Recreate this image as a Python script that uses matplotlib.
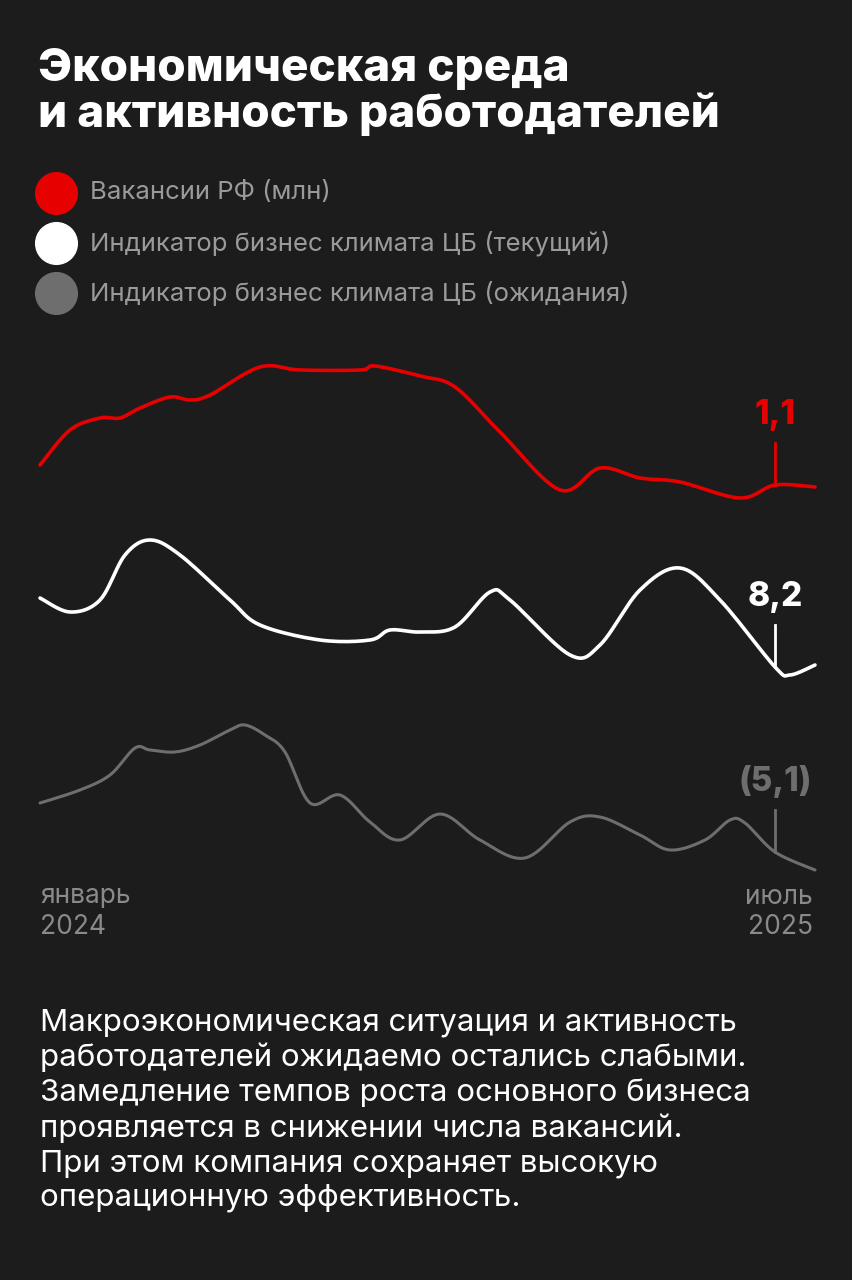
import numpy as np
import matplotlib
matplotlib.use("Agg")
import matplotlib.pyplot as plt

plt.rcParams['font.family'] = ['Inter', 'DejaVu Sans']

BG = '#1c1c1c'
RED = '#e60000'
GRAY = '#6e6e6e'

# x in pixel-like horizontal position, y in vertical chart units (smaller = higher)
red_x = [40, 70, 100, 120, 140, 170, 190, 210, 260, 300, 360, 375, 420, 455, 500, 560, 600, 640, 680, 740, 775, 815]
red_y = [465, 430, 418, 418, 408, 397, 400, 395, 367, 370, 370, 366, 376, 387, 432, 490, 468, 478, 482, 498, 485, 487]
white_x = [40, 70, 100, 125, 150, 180, 230, 260, 320, 370, 390, 420, 455, 490, 510, 570, 600, 640, 680, 720, 775, 790, 815]
white_y = [598, 612, 600, 555, 540, 555, 600, 625, 640, 640, 630, 632, 627, 592, 600, 655, 645, 590, 568, 600, 667, 675, 665]
gray_x = [40, 80, 110, 135, 150, 175, 200, 230, 245, 265, 285, 310, 340, 370, 400, 440, 480, 525, 570, 600, 640, 670, 705, 730, 745, 775, 815]
gray_y = [803, 790, 775, 748, 750, 752, 745, 730, 725, 735, 752, 803, 795, 822, 840, 814, 840, 858, 822, 817, 835, 850, 840, 820, 823, 852, 870]

legend_labels = ['Вакансии РФ (млн)', 'Индикатор бизнес климата ЦБ (текущий)',
                 'Индикатор бизнес климата ЦБ (ожидания)']
end_labels = ['1,1', '8,2', '(5,1)']
marker_x = 775


def smooth(xs, ys, n=12):
    # Catmull-Rom through the read points
    p = np.column_stack([xs, ys]).astype(float)
    p = np.vstack([p[0], p, p[-1]])
    out = []
    t = np.linspace(0, 1, n, endpoint=False)[:, None]
    for i in range(1, len(p) - 2):
        p0, p1, p2, p3 = p[i - 1], p[i], p[i + 1], p[i + 2]
        seg = 0.5 * ((2 * p1) + (-p0 + p2) * t + (2 * p0 - 5 * p1 + 4 * p2 - p3) * t ** 2
                     + (-p0 + 3 * p1 - 3 * p2 + p3) * t ** 3)
        out.append(seg)
    out.append(p[-2][None, :])
    s = np.vstack(out)
    return s[:, 0], s[:, 1]


fig = plt.figure(figsize=(8.53, 12.8), dpi=100, facecolor=BG)
ax = fig.add_axes([0, 0, 1, 1])
ax.set_xlim(0, 853)
ax.set_ylim(1280, 0)
ax.axis('off')
ax.set_facecolor(BG)

ax.text(38, 92, 'Экономическая среда\nи активность работодателей', color='white',
        fontsize=33, fontweight='heavy', va='center', linespacing=1.05)

for i, (lab, col) in enumerate(zip(legend_labels, [RED, 'white', GRAY])):
    y = 193 + 50 * i
    ax.scatter([56], [y], s=900, color=col, zorder=3)
    ax.text(90, y, lab, color='#9a9a9a', fontsize=18.5, va='center')

series = [(red_x, red_y, RED), (white_x, white_y, 'white'), (gray_x, gray_y, GRAY)]
for (xs, ys, col), lab in zip(series, end_labels):
    sx, sy = smooth(xs, ys)
    ax.plot(sx, sy, color=col, lw=2.6 if col != GRAY else 2.2, solid_capstyle='round')
    yv = np.interp(marker_x, sx, sy)
    ax.plot([marker_x, marker_x], [yv - 42, yv], color=col, lw=2)
    ax.text(marker_x, yv - 54, lab, color=col, fontsize=24, fontweight='heavy',
            ha='center', va='bottom')

ax.text(40, 912, 'январь\n2024', color='#8a8a8a', fontsize=19, va='center', linespacing=1.25)
ax.text(813, 912, 'июль\n2025', color='#8a8a8a', fontsize=19, va='center', ha='right',
        linespacing=1.25, multialignment='right')

body = ('Макроэкономическая ситуация и активность\n'
        'работодателей ожидаемо остались слабыми.\n'
        'Замедление темпов роста основного бизнеса\n'
        'проявляется в снижении числа вакансий.\n'
        'При этом компания сохраняет высокую\n'
        'операционную эффективность.')
ax.text(40, 1110, body, color='white', fontsize=22.5, va='center', linespacing=1.27)

fig.savefig('out.png', dpi=100, facecolor=BG)
